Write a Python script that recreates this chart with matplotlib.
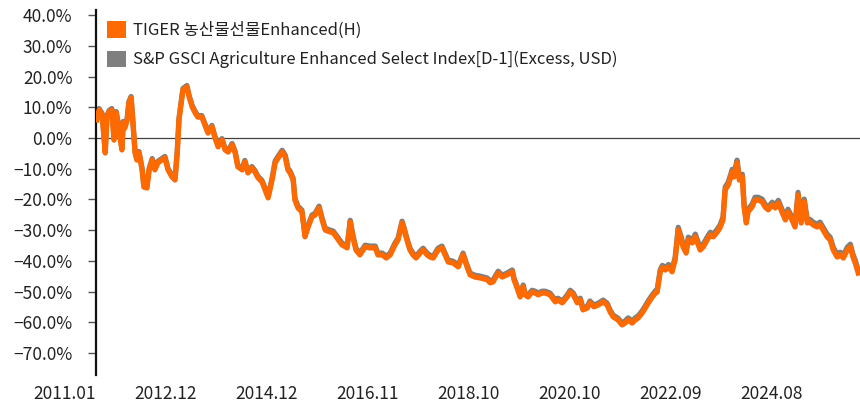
import matplotlib
matplotlib.use("Agg")
import matplotlib.pyplot as plt
from matplotlib.patches import Patch
from matplotlib.transforms import ScaledTranslation

plt.rcParams['font.family'] = ['Noto Sans CJK KR', 'DejaVu Sans']
plt.rcParams['axes.unicode_minus'] = True

# months elapsed since 2011.01
months = [0.2, 0.7, 1.4, 2.1, 2.5, 3.0, 3.6, 4.1, 4.6, 5.0, 5.9, 6.2, 6.6, 7.1, 7.5, 8.0, 8.4, 8.9, 9.3, 9.8,
          10.5, 10.9, 11.6, 12.1, 12.8, 13.4, 14.1, 15.0, 15.7, 16.4, 17.3, 18.0, 18.5, 18.9, 19.8, 20.7, 21.2, 21.9, 22.6, 23.2,
          24.1, 24.8, 25.5, 26.4, 27.1, 27.8, 28.7, 29.4, 30.1, 31.0, 31.7, 32.3, 33.3, 33.9, 34.6, 35.5, 36.2, 36.9, 37.8, 38.5,
          39.2, 40.1, 40.8, 41.5, 42.4, 43.1, 43.7, 44.2, 44.9, 45.3, 46.0, 46.9, 47.6, 48.3, 49.2, 49.9, 50.8, 51.5, 52.2, 53.3,
          54.0, 54.9, 56.0, 57.2, 57.9, 58.5, 59.2, 60.1, 61.3, 62.4, 63.6, 64.2, 65.2, 66.1, 67.0, 68.1, 68.8, 69.7, 70.2, 70.8,
          71.5, 72.2, 72.9, 73.8, 74.5, 75.4, 76.1, 76.8, 77.9, 78.8, 79.5, 80.2, 81.3, 82.5, 83.6, 84.5, 85.2, 86.3, 87.5, 89.1,
          89.8, 90.4, 91.6, 92.5, 93.6, 94.8, 95.2, 95.9, 96.6, 97.3, 97.7, 98.4, 99.3, 100.0, 100.7, 101.6, 102.3, 103.4, 104.6, 105.2,
          106.2, 107.3, 108.0, 108.7, 109.6, 110.3, 110.9, 111.9, 112.5, 113.4, 114.4, 115.5, 116.4, 117.1, 117.8, 118.9, 119.8, 120.5, 121.2, 122.1,
          122.8, 123.5, 124.4, 125.1, 125.8, 126.7, 127.4, 127.8, 128.5, 129.0, 129.7, 130.4, 131.2, 131.9, 132.6, 133.3, 133.7, 134.4, 134.9, 135.8,
          136.5, 136.9, 137.6, 138.3, 139.2, 139.9, 140.6, 141.5, 142.1, 142.8, 143.3, 144.0, 144.9, 145.3, 146.0, 146.5, 147.2, 147.6, 148.1, 148.5,
          149.4, 150.1, 150.8, 151.7, 152.4, 153.1, 154.0, 154.7, 155.4, 156.3, 157.0, 157.6, 158.5, 159.2, 159.9, 160.6, 161.3, 162.0, 162.6, 163.3,
          164.2, 164.9, 165.6, 166.5, 167.2, 167.9, 168.8, 169.5, 170.2, 171.1, 171.8, 172.4, 172.9, 173.6]

tiger = [5.9, 9.1, 7.5, -4.9, 6.8, 8.5, 9.1, -0.7, 8.1, 4.9, -3.9, 4.9, 3.3, 5.9, 11.4, 13.0, 4.9, -4.9, -7.2, -4.9,
         -10.4, -16.0, -16.3, -10.4, -7.2, -10.4, -8.1, -7.2, -6.5, -10.4, -12.7, -13.7, -4.9, 5.9, 15.6, 16.6, 13.4, 10.1, 8.1, 6.8,
         6.8, 4.2, 1.6, 3.6, 0.0, -2.9, -0.7, -3.9, -4.6, -2.3, -4.9, -9.4, -10.4, -7.8, -11.4, -9.8, -11.1, -13.0, -14.3, -16.9,
         -19.5, -13.7, -8.1, -6.5, -4.6, -6.2, -10.4, -11.4, -13.7, -20.2, -22.8, -24.1, -32.2, -29.0, -25.7, -25.1, -22.8, -26.7, -30.0, -30.6,
         -30.9, -32.6, -34.8, -35.8, -27.4, -32.2, -36.5, -38.1, -35.5, -35.8, -35.8, -38.1, -38.1, -39.1, -38.1, -34.8, -33.2, -27.7, -30.0, -33.2,
         -36.5, -38.1, -39.1, -37.5, -36.5, -38.1, -38.8, -39.1, -36.5, -35.8, -38.1, -40.4, -40.7, -42.0, -38.1, -42.0, -44.6, -45.3, -45.6, -46.2,
         -47.2, -46.9, -44.0, -45.3, -44.6, -43.6, -46.2, -48.9, -51.8, -48.5, -51.1, -51.8, -50.2, -50.5, -51.1, -50.5, -50.5, -51.1, -53.4, -52.8,
         -53.7, -51.8, -50.2, -51.1, -53.7, -52.8, -56.0, -55.4, -53.7, -55.0, -54.4, -53.4, -54.4, -56.7, -58.3, -59.3, -60.9, -60.3, -59.3, -60.3,
         -59.3, -58.6, -57.0, -55.4, -53.7, -51.8, -50.5, -50.2, -43.6, -42.3, -43.0, -42.0, -43.6, -39.7, -30.0, -33.2, -35.5, -37.5, -33.2, -34.2,
         -32.2, -33.9, -36.5, -35.5, -33.2, -31.6, -32.2, -30.6, -29.3, -26.7, -16.9, -15.3, -11.1, -12.7, -8.1, -13.7, -12.7, -22.5, -27.7, -24.1,
         -22.5, -20.2, -20.2, -20.8, -22.5, -23.4, -21.8, -22.8, -21.2, -24.4, -26.7, -24.1, -26.7, -29.0, -18.6, -27.7, -20.8, -27.7, -27.4, -28.3,
         -29.0, -28.3, -30.0, -32.2, -33.2, -36.5, -38.8, -38.1, -39.1, -36.5, -35.5, -38.8, -40.7, -44.0]

gsci = [6.4, 9.6, 8.0, -4.4, 7.3, 9.0, 9.6, -0.2, 8.6, 5.4, -3.4, 5.4, 3.8, 6.4, 11.9, 13.5, 5.4, -4.4, -6.7, -4.4,
        -9.9, -15.5, -15.8, -9.9, -6.7, -9.9, -7.6, -6.7, -6.0, -9.9, -12.2, -13.2, -4.4, 6.4, 16.1, 17.1, 13.9, 10.6, 8.6, 7.3,
        7.3, 4.7, 2.1, 4.1, 0.5, -2.4, -0.2, -3.4, -4.1, -1.8, -4.4, -8.9, -9.9, -7.3, -10.9, -9.3, -10.6, -12.5, -13.8, -16.3,
        -18.9, -13.1, -7.5, -5.9, -4.0, -5.6, -9.8, -10.8, -13.1, -19.6, -22.2, -23.5, -31.6, -28.4, -25.1, -24.5, -22.2, -26.1, -29.4, -30.0,
        -30.3, -32.0, -34.2, -35.2, -26.8, -31.6, -35.9, -37.5, -34.9, -35.2, -35.2, -37.5, -37.5, -38.5, -37.5, -34.2, -32.6, -27.1, -29.4, -32.6,
        -35.9, -37.5, -38.5, -36.9, -35.9, -37.5, -38.2, -38.5, -35.9, -35.2, -37.5, -39.8, -40.1, -41.4, -37.5, -41.4, -44.0, -44.7, -45.0, -45.6,
        -46.6, -46.3, -43.4, -44.7, -44.0, -43.0, -45.6, -48.3, -51.2, -47.9, -50.5, -51.2, -49.6, -49.9, -50.5, -49.9, -49.9, -50.5, -52.8, -52.2,
        -53.1, -51.2, -49.6, -50.5, -53.1, -52.2, -55.4, -54.8, -53.1, -54.4, -53.8, -52.8, -53.8, -56.1, -57.7, -58.7, -60.3, -59.6, -58.6, -59.6,
        -58.6, -57.9, -56.3, -54.7, -53.0, -51.1, -49.8, -49.5, -42.9, -41.5, -42.2, -41.2, -42.8, -38.9, -29.1, -32.3, -34.6, -36.6, -32.3, -33.3,
        -31.3, -33.0, -35.6, -34.6, -32.3, -30.7, -31.3, -29.7, -28.4, -25.8, -16.0, -14.4, -10.2, -11.8, -7.2, -12.8, -11.8, -21.6, -26.8, -23.2,
        -21.6, -19.3, -19.3, -19.9, -21.6, -22.6, -20.9, -21.9, -20.3, -23.5, -25.8, -23.2, -25.8, -28.1, -17.7, -26.8, -19.9, -26.8, -26.5, -27.4,
        -28.1, -27.4, -29.1, -31.3, -32.3, -35.6, -37.9, -37.2, -38.2, -35.6, -34.6, -37.9, -39.8, -43.1]

tick_months = [0, 23, 46, 69, 92, 115, 138, 161]
tick_labels = ['2011.01', '2012.12', '2014.12', '2016.11', '2018.10', '2020.10', '2022.09', '2024.08']
y_ticks = [40, 30, 20, 10, 0, -10, -20, -30, -40, -50, -60, -70]

name_tiger = 'TIGER 농산물선물Enhanced(H)'
name_gsci = 'S&P GSCI Agriculture Enhanced Select Index[D-1](Excess, USD)'

ORANGE = '#FF6A00'
GRAY = '#7F7F7F'

fig = plt.figure(figsize=(8.6, 4.05), dpi=100)
ax = fig.add_axes([96 / 860, 1 - 375 / 405, 1 - 96 / 860, (375 - 10) / 405])

ax.plot(months, gsci, color=GRAY, lw=3.8, solid_joinstyle='round', zorder=2)
ax.plot(months, tiger, color=ORANGE, lw=3.8, solid_joinstyle='round', zorder=3)
ax.axhline(0, color='#404040', lw=0.9, zorder=1)

ax.set_xlim(0, 174)
ax.set_ylim(-77.2, 41.7)
ax.set_yticks(y_ticks)
ax.set_yticklabels([f'{v:.1f}%'.replace('-', '\u2212') for v in y_ticks])
ax.set_xticks(tick_months)
ax.set_xticklabels(tick_labels, ha='right')
off = ScaledTranslation(8 / 100, 0, fig.dpi_scale_trans)
for lab in ax.get_xticklabels():
    lab.set_transform(lab.get_transform() + off)

for s in ['top', 'right', 'bottom']:
    ax.spines[s].set_visible(False)
ax.spines['left'].set_color('#111111')
ax.spines['left'].set_linewidth(1.6)
ax.tick_params(axis='y', direction='out', length=6, width=1.0, color='#555555', pad=11,
               labelsize=12.5, labelcolor='#222222')
ax.tick_params(axis='x', length=0, pad=7, labelsize=12.5, labelcolor='#222222')

handles = [Patch(facecolor=ORANGE, edgecolor='none'), Patch(facecolor=GRAY, edgecolor='none')]
ax.legend(handles, [name_tiger, name_gsci], loc='upper left',
          bbox_to_anchor=(107 / 860, 1 - 21 / 405), bbox_transform=fig.transFigure,
          frameon=False, fontsize=12, handlelength=1.15, handleheight=1.15,
          handletextpad=0.4, labelspacing=0.7, borderpad=0, borderaxespad=0,
          labelcolor='#222222')

fig.savefig('out.png', dpi=100, facecolor='white')
